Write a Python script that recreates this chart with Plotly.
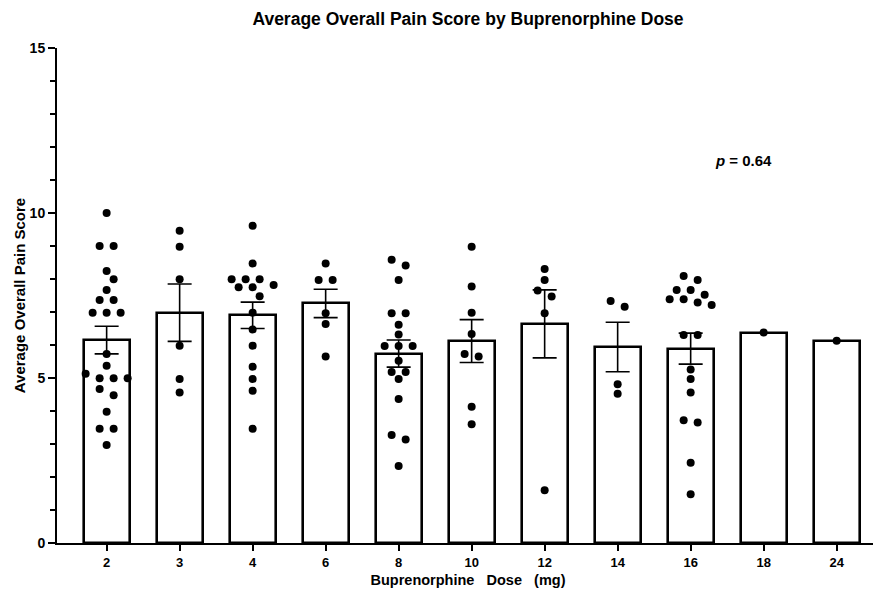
import plotly.graph_objects as go

doses = ["2", "3", "4", "6", "8", "10", "12", "14", "16", "18", "24"]
means = [6.15, 6.98, 6.90, 7.26, 5.74, 6.12, 6.64, 5.94, 5.89, 6.37, 6.12]
sems = [0.42, 0.87, 0.40, 0.43, 0.41, 0.65, 1.03, 0.75, 0.47, 0.0, 0.0]

pts_2 = [10.0, 9.0, 9.0, 8.24, 7.99, 7.67, 7.36, 7.36, 6.98, 6.98, 6.98, 5.73, 5.37,
         5.13, 4.99, 4.99, 4.99, 4.67, 4.48, 3.98, 3.46, 3.46, 2.97]
pts_3 = [9.46, 8.98, 7.99, 5.98, 4.97, 4.56]
pts_4 = [9.61, 8.47, 7.99, 7.99, 7.99, 7.82, 7.75, 7.75, 7.48, 6.98, 6.47, 5.98, 5.34,
         4.97, 4.61, 3.46]
pts_6 = [8.47, 7.97, 7.97, 6.96, 6.64, 5.65]
pts_8 = [8.58, 8.41, 7.97, 6.96, 6.96, 6.61, 6.32, 5.97, 5.97, 5.97, 5.52, 5.18, 5.18,
         4.97, 4.36, 3.27, 3.14, 2.33]
pts_10 = [8.98, 7.77, 6.98, 6.33, 5.73, 5.65, 4.13, 3.60]
pts_12 = [8.30, 7.97, 7.65, 7.47, 6.96, 1.60]
pts_14 = [7.33, 7.16, 4.81, 4.52]
pts_16 = [8.09, 7.97, 7.67, 7.67, 7.52, 7.39, 7.39, 7.29, 7.21, 6.30, 6.30, 5.26, 4.97,
          4.56, 3.72, 3.65, 2.43, 1.48]
pts_18 = [6.38]
pts_24 = [6.13]
groups = [pts_2, pts_3, pts_4, pts_6, pts_8, pts_10, pts_12, pts_14, pts_16, pts_18, pts_24]

p_text = "<b><i>p</i> = 0.64</b>"

# layout geometry (pixels); page body has an 8px margin
W, H = 873, 585
ML, MR, MT, MB = 49, 2, 40, 50
XR = [-0.68, 10.58]
YR = [0, 15]
px_x = (W - ML - MR) / (XR[1] - XR[0])
px_y = (H - MT - MB) / (YR[1] - YR[0])


def swarm(vals, step=14.0, tol=0.2, dmin=9.0):
    """Simple beeswarm: rows of near-equal values spread symmetrically."""
    vs = sorted(vals, reverse=True)
    rows, cur = [], []
    for v in vs:
        if cur and cur[0] - v > tol:
            rows.append(cur)
            cur = []
        cur.append(v)
    if cur:
        rows.append(cur)
    placed = []
    for row in rows:
        n = len(row)
        base = [(i - (n - 1) / 2) * step for i in range(n)]
        for shift in [0, 7, -7, 14, -14, 21, -21]:
            cand = [(b + shift, v * px_y) for b, v in zip(base, row)]
            ok = all(((cx - px) ** 2 + (cy - py) ** 2) ** 0.5 >= dmin
                     for cx, cy in cand for px, py in placed)
            if ok:
                break
        placed.extend(cand)
    return [p[0] / px_x for p in placed], [p[1] / px_y for p in placed]


fig = go.Figure()
fig.add_trace(go.Bar(
    x=list(range(len(doses))), y=means, width=0.63,
    marker=dict(color="white", line=dict(color="black", width=2.6)),
    error_y=dict(type="data", array=sems, visible=True, color="black",
                 thickness=1.6, width=12),
    showlegend=False, hoverinfo="skip"))

xs, ys = [], []
for i, g in enumerate(groups):
    ox, oy = swarm(g)
    xs += [i + o for o in ox]
    ys += oy
fig.add_trace(go.Scatter(x=xs, y=ys, mode="markers",
                         marker=dict(color="black", size=8),
                         showlegend=False))

font_b = "Liberation Sans"
fig.add_annotation(x=8.72, y=11.58, xref="x", yref="y", text=p_text,
                   showarrow=False, font=dict(size=15, color="black",
                                              family=font_b))

fig.update_layout(
    width=W, height=H,
    margin=dict(l=ML, r=MR, t=MT, b=MB),
    plot_bgcolor="white", paper_bgcolor="white",
    font=dict(family=font_b, color="black"),
    title=dict(text="<b>Average Overall Pain Score by Buprenorphine Dose</b>",
               x=0.5, xref="paper", y=1 - 11 / H, yref="container",
               yanchor="middle", xanchor="center",
               font=dict(size=17.5, family=font_b, color="black")),
    bargap=0,
)
fig.update_xaxes(
    range=XR, tickmode="array", tickvals=list(range(len(doses))),
    ticktext=["<b>%s</b>" % d for d in doses],
    showline=True, linecolor="black", linewidth=2,
    ticks="outside", ticklen=6, tickwidth=1.5, tickcolor="black",
    showgrid=False, zeroline=False,
    tickfont=dict(size=13, family=font_b),
    title=dict(text="<b>Buprenorphine\u00a0\u00a0 Dose\u00a0\u00a0 (mg)</b>",
               font=dict(size=14.5, family=font_b), standoff=6),
)
fig.update_yaxes(
    range=YR, tickmode="array", tickvals=[0, 5, 10, 15],
    ticktext=["<b>0</b>", "<b>5</b>", "<b>10</b>", "<b>15</b>"],
    showline=True, linecolor="black", linewidth=2,
    ticks="outside", ticklen=7, tickwidth=1.5, tickcolor="black",
    minor=dict(tickvals=list(range(0, 16)), ticks="outside", ticklen=5,
               tickwidth=1.5, tickcolor="black", showgrid=False),
    showgrid=False, zeroline=False,
    tickfont=dict(size=14, family=font_b),
    title=dict(text="<b>Average Overall Pain Score</b>",
               font=dict(size=15, family=font_b), standoff=0),
)

fig.write_html("out.html")
